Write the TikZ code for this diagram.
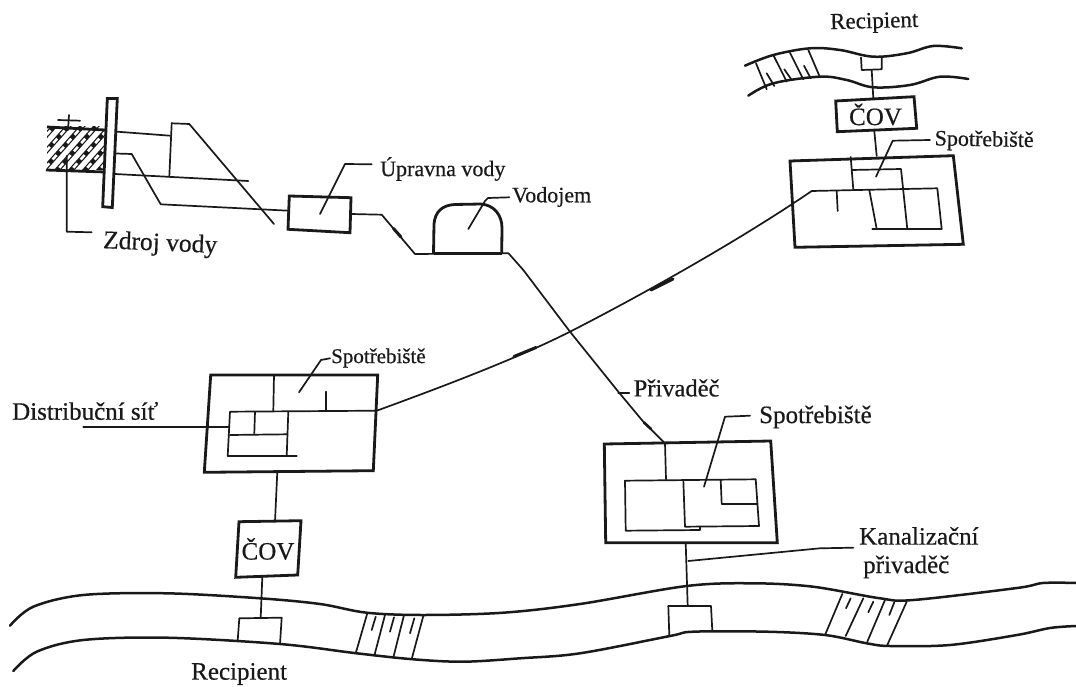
\documentclass[tikz,border=0pt]{standalone}
\usepackage{fontspec}
\setmainfont[RawFeature={embolden=0.5}]{Liberation Serif}
\tikzset{
  thinl/.style={draw=black!90,line width=1.7pt,line join=round,line cap=round},
  thickl/.style={draw=black!90,line width=2.8pt,line join=miter},
  bank/.style={draw=black!90,line width=2.5pt,line cap=round,line join=round},
  mark pipe/.style={draw=black!90,line width=3pt,line cap=round},
  lab/.style={inner sep=0pt,anchor=west,text=black!90},
  fs/.style={font=\fontsize{#1}{#1}\selectfont}
}
\begin{document}
\begin{tikzpicture}[x=1pt,y=-1pt]
\useasboundingbox (0,0) rectangle (1076,687);
% ---- key points
\coordinate (srcA) at (116,153.5);
\coordinate (upL) at (288.5,210.7);
\coordinate (upR) at (351,214);
\coordinate (vodL) at (415,254);
\coordinate (vodR) at (508.5,253.3);
\coordinate (feedEnd) at (665,443.3);
\coordinate (spL) at (376.7,410.7);
\coordinate (spR) at (811.7,191);
\coordinate (leftBoxS) at (277.3,472);
\coordinate (leftCovN) at (275,521.5);
\coordinate (leftCovS) at (262.3,577);
\coordinate (leftOutN) at (260.7,618);
\coordinate (midBoxS) at (685.7,543);
\coordinate (midOutN) at (687.7,606);
\coordinate (topBoxN) at (876.7,156);
\coordinate (topCovS) at (874.3,131);
\coordinate (topCovN) at (873.3,98);
\coordinate (topOutS) at (871.7,70);
% ---- source: ground with hatching
\begin{scope}
 \clip (47,127) rectangle (105,170);
 \foreach \i in {0,14,...,98}{
  \draw[black!90,line width=5pt] (10+\i,176) -- (58+\i,122);
  \draw[white,line width=2.6pt,dash pattern=on 6pt off 5pt] (10+\i,176) -- (58+\i,122);
 }
\end{scope}
\draw[thickl] (47,127) -- (105,130);
\draw[thickl] (46,170) -- (105,172);
\draw[thinl] (58,120) -- (80,120.7);
\draw[thinl] (69,115) -- (68,130);
% well / plate
\draw[thickl,fill=white] (107.3,98.5) -- (117.3,98.5) -- (112.3,207.5) -- (102.7,206.7) -- cycle;
% intake pipes
\draw[thinl] (117.3,131.7) -- (170,135.7);
\draw[thinl] (171.7,123.3) -- (169.3,176.7);
\draw[thinl] (171.7,123.3) -- (189.3,124) -- (274,224);
\draw[thinl] (115,174) -- (248.3,181);
\draw[thinl] (srcA) -- (131.7,154) -- (160.7,204.3) -- (upL);
\draw[thinl] (66.7,156) -- (66.7,231.7) -- (91.7,232.3);
\node[lab,fs=25.5,rotate=-2.5] (zdroj) at (103,242) {Zdroj vody};
% treatment
\draw[thickl] (289.3,196) -- (351,197.7) -- (350,232.7) -- (288,229.3) -- cycle;
\draw[thinl] (320,214) -- (345,164) -- (371.7,164.3);
\node[lab,fs=22] (uprav) at (380,169) {Úpravna vody};
\draw[thinl] (upR) -- (381.7,214.7) -- (vodL) -- (vodR) -- (523.3,270);
\draw[mark pipe] (393.5,228.5) -- (401,237);
% reservoir
\draw[thickl] (433.5,253.3) -- (434,224) .. controls (435,212) and (442,205) .. (455,204.5) -- (481,204) .. controls (494,205) and (502,215) .. (502,228) -- (501.7,253.3);
\draw[thickl] (433.5,253.3) -- (501.7,253.3);
\draw[thinl] (468.3,229) -- (485,201) -- (488,198) -- (509.3,197.3);
\node[lab,fs=22] (vodo) at (512,197) {Vodojem};
% feeder
\draw[thinl] (523.3,270) -- (570,331.7) -- (618.3,391.7) -- (643.3,421.7) -- (feedEnd);
\draw[mark pipe,line width=2.6pt] (644,422.5) -- (651,429);
\draw[thinl] (618.3,392.7) -- (629.3,392.7);
\node[lab,fs=24.5] (priv) at (633.5,388) {Přivaděč};
% long main
\draw[thinl] (spL) .. controls (450,384) and (520,357) .. (570,331.7) .. controls (640,296) and (740,240) .. (spR);
\draw[mark pipe] (514,356.5) -- (536,347.5);
\draw[mark pipe] (651,290) -- (673,279);
% top consumer
\draw[thickl] (790,161) -- (953.3,155.7) -- (963.3,244.3) -- (795,247.3) -- cycle;
\draw[thinl] (spR) -- (937.3,188.3) -- (941.7,229) -- (872.3,229);
\draw[thinl] (836.7,191.5) -- (837.7,211);
\draw[thinl] (850.7,157) -- (853.3,189.5);
\draw[thinl] (851.7,170) -- (901,169) -- (907.3,229);
\draw[thinl] (869.3,190) -- (876.7,229);
\draw[thinl] (876,176.7) -- (892.7,140.7) -- (930,140);
\node[lab,fs=22,rotate=-1] (sp1) at (934.5,140) {Spotřebiště};
% top COV
\draw[thickl] (835.7,101) -- (914,96.7) -- (916.7,128.3) -- (837.3,131.7) -- cycle;
\node[fs=25,inner sep=0pt,text=black!90] (cov1) at (875.5,114.5) {ČOV};
\draw[thinl] (topCovS) -- (topBoxN);
\draw[thinl] (topOutS) -- (topCovN);
\draw[thinl] (861,57.5) -- (861.7,70) -- (881.7,69.3) -- (881.7,57.3);
\node[lab,fs=23,rotate=1.5] (rec1) at (830,24) {Recipient};
% top river
\draw[bank] plot[smooth,tension=0.6] coordinates {(745,65.7) (773.3,55) (810,48.3) (840,50) (873.3,56.7) (906.7,53.3) (933.3,46) (961.7,48.3)};
\draw[bank] plot[smooth,tension=0.6] coordinates {(748.3,95.7) (773.3,83.3) (820,76.7) (846.7,80) (873.3,87.3) (910,85) (940,76.7) (968.3,79)};
\foreach \a/\b/\c/\d in {756/63.3/766.7/89.3,773.3/55/786.7/81.7,790/52.7/803.3/79.3,808.3/50/820/77.3,766.7/73.3/774.3/86,784.3/69.3/791.7/80,804/65.7/810.7/78.3}
  \draw[thinl] (\a,\b) -- (\c,\d);
% left consumer
\draw[thickl] (210.7,375) -- (377.7,375) -- (373.3,470.7) -- (204.3,472.3) -- cycle;
\draw[thinl] (spL) -- (230,411.7) -- (227.7,456) -- (296.7,456);
\draw[thinl] (288.3,411.7) -- (286.7,456);
\draw[thinl] (230,435) -- (287.3,434.3);
\draw[thinl] (255,411.7) -- (254.3,433.3);
\draw[thinl] (274,375) -- (273.3,410.7);
\draw[thinl] (325.7,391.7) -- (325.7,410.7);
\draw[thinl] (83.3,427.3) -- (229.3,427.3);
\draw[thinl] (299,392.3) -- (321,360) -- (330,358.3);
\node[lab,fs=21] (sp2) at (331,358) {Spotřebiště};
\node[lab,fs=25] (dist) at (12,411) {Distribuční síť};
\draw[thinl] (leftBoxS) -- (leftCovN);
\draw[thickl] (239,521.7) -- (301,520.7) -- (297.7,575) -- (235.7,577.3) -- cycle;
\node[fs=25,inner sep=0pt,text=black!90] (cov2) at (268,549) {ČOV};
\draw[thinl] (leftCovS) -- (leftOutN);
\draw[thinl] (237.7,640.5) -- (239.3,618.3) -- (281.7,617.7) -- (280,644);
% mid consumer
\draw[thickl] (604.3,444) -- (770.7,441) -- (777.3,542.7) -- (605.7,542.7) -- cycle;
\draw[thinl] (feedEnd) -- (666,479.3);
\draw[thinl] (625,480.7) -- (755.7,479.3) -- (759,526) -- (685,526.7) -- (683.3,480);
\draw[thinl] (625,480.7) -- (625.7,530.7) -- (700,530) -- (700,526.7);
\draw[thinl] (720.7,480) -- (721.7,504) -- (756.7,504);
\draw[thinl] (704,486.7) -- (725,416.7) -- (750,415.7);
\node[lab,fs=25] (sp3) at (759,417) {Spotřebiště};
\draw[thinl] (midBoxS) -- (midOutN);
\draw[thinl] (669.3,635.5) -- (668.3,606) -- (711,606) -- (712.3,630.7);
\draw[thinl] (688.3,561) -- (820,548.3) -- (853.3,547.7);
\node[lab,fs=25] (kan1) at (859,536) {Kanalizační};
\node[lab,fs=25] (kan2) at (863,567) {přivaděč};
\node[lab,fs=25] (rec2) at (191,674) {Recipient};
% main river
\draw[bank] plot[smooth,tension=0.55] coordinates {(10,625.7) (33.3,606.7) (83.3,595) (166.7,593.3) (260,598.3) (320,604) (366.7,612.7) (423.3,615) (503.3,612.7) (580,604) (686.7,586) (753.3,583.3) (813,586.7) (880,598.3) (913.3,600) (1017,588) (1043,583) (1076,583)};
\draw[bank] plot[smooth,tension=0.55] coordinates {(13.3,671) (36.7,651.7) (83.3,640) (166.7,637.7) (280,644) (356.7,653.3) (413.3,659.3) (463.3,661.7) (520,658.3) (580,653.3) (670,636) (693.3,631.7) (766.7,631.7) (825,635) (866.7,643.3) (890,646) (950,645) (1017,635) (1050,628) (1076,626)};
\foreach \a/\b/\c/\d in {367.3/613.3/355.7/653.3,385/615/374.3/655.7,404/615/393.3/657.7,423.3/616/411.7/659,375.7/616.7/371.7/630,394/617.3/390/631.7,414.3/618.3/410/633.3,842.3/594/825/635,863.3/598.3/845.7/636,885/600/867.3/641.7,906.7/601.7/887.3/645,850.7/598.3/846/608.3,873.3/601.7/868.3/612.3,894.3/602.3/889.3/615}
  \draw[thinl] (\a,\b) -- (\c,\d);
\end{tikzpicture}
\end{document}
